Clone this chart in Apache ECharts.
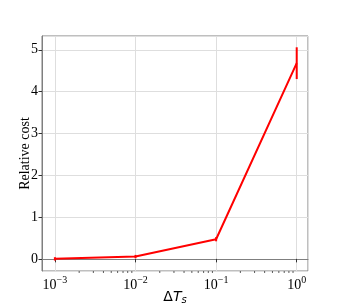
<!DOCTYPE html>
<html>
<head>
<meta charset="utf-8">
<script src="https://cdn.jsdelivr.net/npm/echarts@6/dist/echarts.min.js"></script>
<style>html,body{margin:0;padding:0;background:#fff}#c{width:343px;height:305px}</style>
</head>
<body>
<div id="c"></div>
<script>
var stepSizes = [0.001, 0.01, 0.1, 1];
var relativeCost = [0.0, 0.055, 0.47, 4.68];
var costError = [0.04, 0.04, 0.05, 0.38];
var xTickExponents = ['−3', '−2', '−1', '0'];
var yTickLabels = ['0', '1', '2', '3', '4', '5'];
var minorTickValues = [];
[0.001, 0.01, 0.1].forEach(function (d) { for (var k = 2; k <= 9; k++) minorTickValues.push(d * k); });

var xMin = Math.pow(10, -3.16), xMax = Math.pow(10, 0.14);
var yMin = -0.29, yMax = 5.33;
var serif = '"Liberation Serif", "DejaVu Serif", serif';

var chart = echarts.init(document.getElementById('c'), null, {renderer: 'canvas'});
chart.setOption({
  animation: false,
  backgroundColor: '#fff',
  grid: {left: 42, top: 36, right: 35, bottom: 34, containLabel: false, outerBoundsMode: 'none',
         show: true, borderColor: '#7f7f7f', borderWidth: 1, backgroundColor: 'transparent'},
  xAxis: {
    type: 'log', min: xMin, max: xMax, logBase: 10,
    name: '{d|Δ}{t|T}{s|s}', nameLocation: 'middle', nameGap: 18, nameMoveOverlap: false,
    nameTextStyle: {rich: {
      d: {fontFamily: '"DejaVu Sans"', fontSize: 14, color: '#000'},
      t: {fontFamily: '"DejaVu Sans"', fontStyle: 'italic', fontSize: 14, color: '#000'},
      s: {fontFamily: '"DejaVu Sans"', fontStyle: 'italic', fontSize: 10, color: '#000', verticalAlign: 'bottom', padding: [6, 0, 0, 0]}
    }},
    axisLine: {show: true, lineStyle: {color: '#7f7f7f'}},
    axisTick: {show: true, length: 3.5, lineStyle: {color: '#333'}},
    splitLine: {show: true, lineStyle: {color: '#dedede', width: 1}},
    axisLabel: {
      showMinLabel: false, showMaxLabel: false, margin: 4,
      formatter: function (v) {
        var e = Math.round(Math.log10(v));
        var idx = stepSizes.indexOf(Math.pow(10, e));
        if (idx < 0 || Math.abs(Math.log10(v) - e) > 1e-6) return '';
        return '{b|10}{e|' + xTickExponents[idx] + '}';
      },
      rich: {
        b: {fontFamily: serif, fontSize: 14, color: '#000', verticalAlign: 'bottom'},
        e: {fontFamily: serif, fontSize: 10, color: '#000', verticalAlign: 'top', padding: [0, 0, 7, 0]}
      }
    }
  },
  yAxis: {
    type: 'value', min: yMin, max: yMax, minInterval: 1, maxInterval: 1, splitNumber: 5,
    name: 'Relative cost', nameLocation: 'middle', nameGap: 10, nameRotate: 90, nameMoveOverlap: false,
    nameTextStyle: {fontFamily: serif, fontSize: 14, color: '#000'},
    axisLine: {show: true, lineStyle: {color: '#7f7f7f'}},
    axisTick: {show: true, length: 3.5, lineStyle: {color: '#333'}},
    splitLine: {show: true, lineStyle: {color: '#dedede', width: 1}},
    axisLabel: {
      showMinLabel: false, showMaxLabel: false, margin: 4,
      fontFamily: serif, fontSize: 14, color: '#000',
      formatter: function (v) {
        var i = yTickLabels.indexOf(String(Math.round(v)));
        return (Math.abs(v - Math.round(v)) < 1e-6 && i >= 0) ? yTickLabels[i] : '';
      }
    }
  },
  series: [
    {
      type: 'line', data: stepSizes.map(function (x, i) { return [x, relativeCost[i]]; }),
      symbol: 'none', lineStyle: {color: '#ff0000', width: 2}, z: 3
    },
    {
      type: 'custom', z: 4,
      data: stepSizes.map(function (x, i) { return [x, relativeCost[i], costError[i]]; }),
      renderItem: function (params, api) {
        var x = api.value(0), y = api.value(1), e = api.value(2);
        var p1 = api.coord([x, y - e]), p2 = api.coord([x, y + e]);
        return {type: 'line', shape: {x1: p1[0], y1: p1[1], x2: p2[0], y2: p2[1]}, style: {stroke: '#ff0000', lineWidth: 2}};
      }
    },
    {
      type: 'custom', z: 2, clip: false, silent: true,
      data: minorTickValues.map(function (v) { return [v, yMin]; }),
      renderItem: function (params, api) {
        var p = api.coord([api.value(0), api.value(1)]);
        return {type: 'line', shape: {x1: p[0], y1: p[1], x2: p[0], y2: p[1] + 2}, style: {stroke: '#333', lineWidth: 0.8}};
      }
    }
  ]
});
</script>
</body>
</html>
